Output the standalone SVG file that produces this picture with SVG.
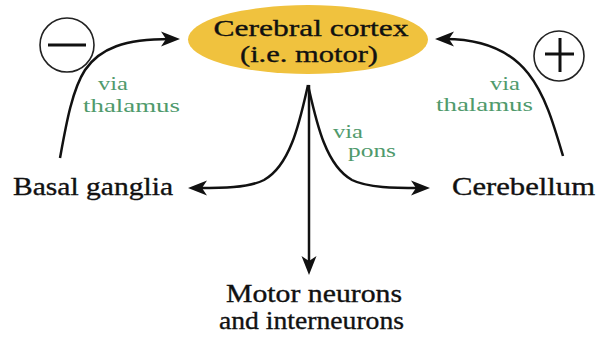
<svg xmlns="http://www.w3.org/2000/svg" width="598" height="338" viewBox="0 0 598 338">
  <defs>
    <marker id="ah" markerUnits="userSpaceOnUse" markerWidth="30" markerHeight="20" viewBox="-10 -10 30 20" refX="0" refY="0" orient="auto" overflow="visible">
      <path d="M10,0 L-9,-7.5 L-4,0 L-9,7.5 Z" fill="#111"/>
    </marker>
  </defs>
  <style>
    .lbl { font-family: "Liberation Serif", "Times New Roman", serif; font-size: 26px; fill: #111; stroke: #111; stroke-width: 0.35; }
    .in { font-size: 24px; }
    .via { font-family: "Liberation Serif", "Times New Roman", serif; font-size: 19px; fill: #4f9a6c; }
    .conn { fill: none; stroke: #111; stroke-width: 2.5; marker-end: url(#ah); }
    .sign { fill: none; stroke: #222; stroke-width: 1.6; }
    .bar { stroke: #111; stroke-width: 3; }
  </style>
  <rect width="598" height="338" fill="#ffffff"/>

  <g id="connectors">
    <path class="conn" d="M60,158 C66,125 72,90 85,70 C100,48 125,39 170,39"/>
    <path class="conn" d="M563,156 C545,95 530,39 445,39"/>
    <path class="conn" d="M308,85 C316,120 325,165 352,180 C368,188 395,188 420,188"/>
    <path class="conn" d="M308,85 C300,120 291,165 264,180 C248,188 221,188 198,188"/>
    <path class="conn" d="M309,85 L309,265"/>
  </g>

  <g id="cortex">
    <ellipse cx="308" cy="39.5" rx="120" ry="34.5" fill="#f0c23e"/>
    <text class="lbl in" x="311" y="36" text-anchor="middle" textLength="195" lengthAdjust="spacingAndGlyphs">Cerebral cortex</text>
    <text class="lbl in" x="309" y="62" text-anchor="middle" textLength="138" lengthAdjust="spacingAndGlyphs">(i.e. motor)</text>
  </g>

  <g id="basal-ganglia">
    <text class="lbl" x="13" y="195" textLength="160" lengthAdjust="spacingAndGlyphs">Basal ganglia</text>
  </g>

  <g id="cerebellum">
    <text class="lbl" x="452" y="195" textLength="143" lengthAdjust="spacingAndGlyphs">Cerebellum</text>
  </g>

  <g id="motor-neurons">
    <text class="lbl" x="226" y="302" textLength="176" lengthAdjust="spacingAndGlyphs">Motor neurons</text>
    <text class="lbl" x="219" y="329" textLength="185" lengthAdjust="spacingAndGlyphs">and interneurons</text>
  </g>

  <g id="minus">
    <circle class="sign" cx="67" cy="45" r="27"/>
    <line class="bar" x1="48" y1="45" x2="86" y2="45"/>
  </g>

  <g id="plus">
    <circle class="sign" cx="559" cy="56" r="25"/>
    <line class="bar" x1="545" y1="54" x2="574" y2="54" stroke-width="2.5"/>
    <line class="bar" x1="560" y1="38" x2="560" y2="72" stroke-width="2.5"/>
  </g>

  <g id="labels-via">
    <text class="via" x="98" y="90" textLength="30" lengthAdjust="spacingAndGlyphs">via</text>
    <text class="via" x="83" y="112" textLength="97" lengthAdjust="spacingAndGlyphs">thalamus</text>
    <text class="via" x="490" y="90" textLength="30" lengthAdjust="spacingAndGlyphs">via</text>
    <text class="via" x="436" y="111" textLength="97" lengthAdjust="spacingAndGlyphs">thalamus</text>
    <text class="via" x="333" y="138" textLength="30" lengthAdjust="spacingAndGlyphs">via</text>
    <text class="via" x="348" y="157" textLength="48" lengthAdjust="spacingAndGlyphs">pons</text>
  </g>
</svg>
